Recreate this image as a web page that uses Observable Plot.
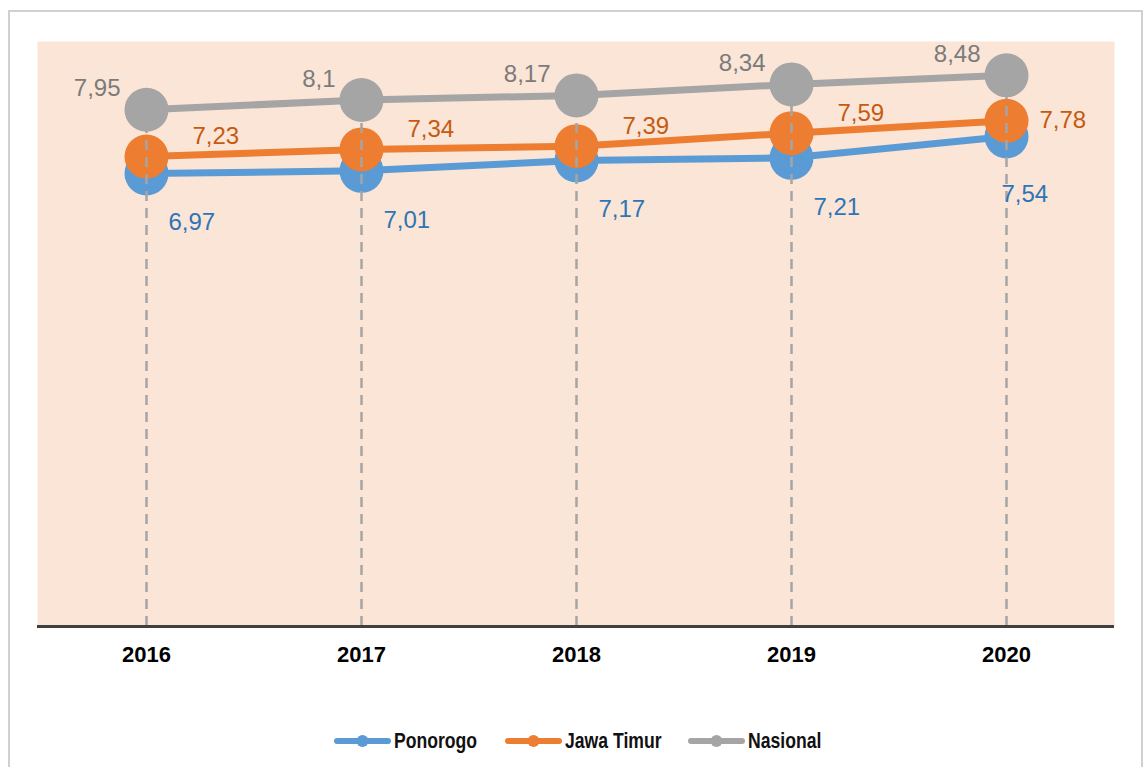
<!DOCTYPE html>
<html><head><meta charset="utf-8">
<script src="https://cdn.jsdelivr.net/npm/d3@7"></script>
<script src="https://cdn.jsdelivr.net/npm/@observablehq/plot@0.6"></script>
<style>
body{margin:0;background:#fff;}
#wrap{position:relative;width:1144px;height:767px;overflow:hidden;font-family:"Liberation Sans",Arial,sans-serif;}
#border{position:absolute;left:8px;top:10px;width:1131px;height:800px;border:2px solid #d0d0d0;}
#chart{position:absolute;left:0;top:0;}
#legend{position:absolute;left:6px;width:1144px;top:727px;height:28px;display:flex;justify-content:center;align-items:center;gap:27px;}
.item{display:flex;align-items:center;}
.item span{display:inline-block;margin-left:3px;font-family:"Liberation Sans",Arial,sans-serif;font-weight:bold;font-size:22px;color:#111;transform-origin:0 50%;}
</style></head>
<body>
<div id="wrap"><div id="border"></div><div id="chart"></div><div id="legend"></div></div>
<script>
const years = ["2016","2017","2018","2019","2020"];
const seriesNames = ["Ponorogo","Jawa Timur","Nasional"];
const ponorogo = [6.97, 7.01, 7.17, 7.21, 7.54];
const jawaTimur = [7.23, 7.34, 7.39, 7.59, 7.78];
const nasional = [7.95, 8.10, 8.17, 8.34, 8.48];

const colors = {"Ponorogo":"#5b9bd5","Jawa Timur":"#ed7d31","Nasional":"#a5a5a5"};
const labelColors = {"Ponorogo":"#2e75b6","Jawa Timur":"#c55a11","Nasional":"#7b7b7b"};

const mk = (name, vals) => years.map((y,i)=>({year:y, value:vals[i], series:name, i, label:String(vals[i]).replace(".",",")}));
const dP = mk("Ponorogo", ponorogo);
const dJ = mk("Jawa Timur", jawaTimur);
const dN = mk("Nasional", nasional);

const lab = {fontSize:24, fontFamily:"Liberation Sans, Arial, sans-serif"};
const plot = Plot.plot({
  width:1144, height:690,
  marginLeft:37, marginRight:30, marginTop:41, marginBottom:64,
  style:{fontFamily:"Liberation Sans, Arial, sans-serif", background:"transparent"},
  x:{type:"point", domain:years, padding:0.5},
  y:{domain:[0,9], axis:null},
  marks:[
    Plot.frame({fill:"#fbe5d6", stroke:null}),
    Plot.line(dP, {x:"year", y:"value", stroke:colors["Ponorogo"], strokeWidth:7}),
    Plot.dot(dP, {x:"year", y:"value", r:22, fill:colors["Ponorogo"]}),
    Plot.line(dJ, {x:"year", y:"value", stroke:colors["Jawa Timur"], strokeWidth:7}),
    Plot.dot(dJ, {x:"year", y:"value", r:22, fill:colors["Jawa Timur"]}),
    Plot.ruleX(dN, {x:"year", y1:0, y2:"value", stroke:"#a5a5a5", strokeWidth:2.5, strokeDasharray:"10,7"}),
    Plot.line(dN, {x:"year", y:"value", stroke:colors["Nasional"], strokeWidth:7}),
    Plot.dot(dN, {x:"year", y:"value", r:22, fill:colors["Nasional"]}),
    Plot.ruleY([0], {stroke:"#404040", strokeWidth:3}),
    Plot.axisX({tickSize:0, tickPadding:20, fontSize:22, fontWeight:"bold", fill:"#000", label:null}),
    Plot.text(dN, {x:"year", y:"value", text:"label", fill:labelColors["Nasional"], textAnchor:"end", dx:-26, dy:-21, ...lab}),
    Plot.text(dJ.filter(d=>d.i<4), {x:"year", y:"value", text:"label", fill:labelColors["Jawa Timur"], textAnchor:"start", dx:46, dy:-20, ...lab}),
    Plot.text(dJ.filter(d=>d.i===4), {x:"year", y:"value", text:"label", fill:labelColors["Jawa Timur"], textAnchor:"start", dx:33, dy:0, ...lab}),
    Plot.text(dP.filter(d=>d.i<4), {x:"year", y:"value", text:"label", fill:labelColors["Ponorogo"], textAnchor:"start", dx:22, dy:49, ...lab}),
    Plot.text(dP.filter(d=>d.i===4), {x:"year", y:"value", text:"label", fill:labelColors["Ponorogo"], textAnchor:"start", dx:-5, dy:58, ...lab})
  ]
});
document.getElementById("chart").appendChild(plot);

const legend = document.getElementById("legend");
seriesNames.forEach(n=>{
  const it = document.createElement("div"); it.className="item";
  it.innerHTML = `<svg width="57" height="14"><line x1="3" y1="7" x2="54" y2="7" stroke="${colors[n]}" stroke-width="6" stroke-linecap="round"/><circle cx="28.5" cy="7" r="6" fill="${colors[n]}"/></svg><span>${n}</span>`;
  legend.appendChild(it);
  const sp = it.querySelector("span");
  const w = sp.getBoundingClientRect().width;
  const s = 0.8;
  sp.style.transform = `scaleX(${s})`;
  sp.style.marginRight = `${-(1-s)*w}px`;
});
</script>
</body></html>
